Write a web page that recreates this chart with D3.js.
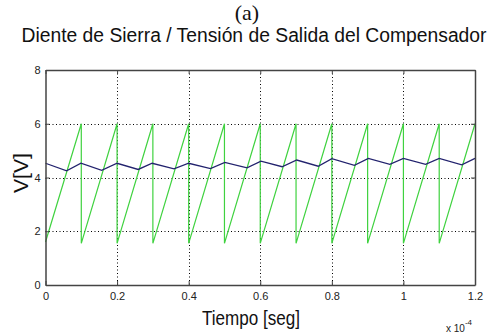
<!DOCTYPE html>
<html>
<head>
<meta charset="utf-8">
<script src="https://cdn.jsdelivr.net/npm/d3@7"></script>
<style>
  body { margin: 0; background: #fff; }
  svg { display: block; }
  text { font-family: "Liberation Sans", Arial, sans-serif; }
</style>
</head>
<body>
<div id="chart"></div>
<script>
// tick labels
const xTicks = [0, 0.2, 0.4, 0.6, 0.8, 1, 1.2];
const yTicks = [0, 2, 4, 6, 8];

// sawtooth (Diente de Sierra), time in units of 1e-4 s
const sawT = [0, 0.1, 0.1, 0.2, 0.2, 0.3, 0.3, 0.4, 0.4, 0.5, 0.5, 0.6, 0.6,
  0.7, 0.7, 0.8, 0.8, 0.9, 0.9, 1.0, 1.0, 1.1, 1.1, 1.2];
const sawV = [1.6, 6, 1.55, 6, 1.55, 6, 1.55, 6, 1.55, 6, 1.55, 6, 1.55,
  6, 1.55, 6, 1.55, 6, 1.55, 6, 1.55, 6, 1.55, 6];

// compensator output
const compT = [0, 0.059, 0.099, 0.157, 0.2, 0.259, 0.298, 0.359, 0.4, 0.461, 0.501,
  0.563, 0.602, 0.661, 0.702, 0.762, 0.8, 0.863, 0.902, 0.962, 1.0, 1.062, 1.1, 1.163, 1.2];
const compV = [4.53, 4.25, 4.53, 4.27, 4.53, 4.30, 4.53, 4.32, 4.53, 4.33, 4.56,
  4.36, 4.61, 4.40, 4.65, 4.42, 4.70, 4.45, 4.71, 4.49, 4.71, 4.49, 4.71, 4.47, 4.71];

const cfg = {
  width: 504,
  height: 336,
  left: 45.5,
  right: 475,
  top: 70,
  bottom: 285,
  frameColor: "#444",
  sawColor: "#3fd23f",
  compColor: "#23236e"
};

const svg = d3.select("#chart").append("svg")
  .attr("width", cfg.width)
  .attr("height", cfg.height);

const x = d3.scaleLinear().domain([0, 1.2]).range([cfg.left, cfg.right]);
const y = d3.scaleLinear().domain([0, 8]).range([cfg.bottom, cfg.top]);

// grid
const grid = svg.append("g")
  .attr("stroke", "#000")
  .attr("stroke-width", 1)
  .attr("stroke-dasharray", "1,2.5");
grid.selectAll(".gx")
  .data(xTicks.slice(1, -1))
  .enter().append("line")
  .attr("x1", d => Math.round(x(d)) + 0.5)
  .attr("x2", d => Math.round(x(d)) + 0.5)
  .attr("y1", cfg.top)
  .attr("y2", cfg.bottom);
grid.selectAll(".gy")
  .data(yTicks.slice(1, -1))
  .enter().append("line")
  .attr("y1", d => Math.round(y(d)) + 0.5)
  .attr("y2", d => Math.round(y(d)) + 0.5)
  .attr("x1", cfg.left)
  .attr("x2", cfg.right);

// series
const line = d3.line().x(d => x(d[0])).y(d => y(d[1]));
svg.append("path")
  .datum(sawT.map((t, i) => [t, sawV[i]]))
  .attr("d", line)
  .attr("fill", "none")
  .attr("stroke", cfg.sawColor)
  .attr("stroke-width", 1.2);
svg.append("path")
  .datum(compT.map((t, i) => [t, compV[i]]))
  .attr("d", line)
  .attr("fill", "none")
  .attr("stroke", cfg.compColor)
  .attr("stroke-width", 1.3);

// axes, ticks inward
const fmt = d => d === 0 || d === 1 ? String(d) : d3.format(".1f")(d);
const xAxis = svg.append("g")
  .attr("transform", `translate(0,${cfg.bottom})`)
  .call(d3.axisBottom(x).tickValues(xTicks).tickFormat(fmt).tickSizeInner(-4).tickSizeOuter(0).tickPadding(7));
const xTop = svg.append("g")
  .attr("transform", `translate(0,${cfg.top})`)
  .call(d3.axisTop(x).tickValues(xTicks).tickFormat("").tickSizeInner(-4).tickSizeOuter(0));
const yAxis = svg.append("g")
  .attr("transform", `translate(${cfg.left},0)`)
  .call(d3.axisLeft(y).tickValues(yTicks).tickFormat(d3.format("d")).tickSizeInner(-4).tickSizeOuter(0).tickPadding(5));
const yRight = svg.append("g")
  .attr("transform", `translate(${cfg.right},0)`)
  .call(d3.axisRight(y).tickValues(yTicks).tickFormat("").tickSizeInner(-4).tickSizeOuter(0));

[xAxis, xTop, yAxis, yRight].forEach(g => {
  g.select(".domain").attr("stroke", cfg.frameColor).attr("stroke-width", 1.5);
  g.selectAll(".tick line").attr("stroke", cfg.frameColor);
  g.selectAll("text")
    .attr("fill", "#222")
    .style("font-size", "11px")
    .style("font-family", "'Liberation Sans', Arial, sans-serif");
});

// titles
svg.append("text")
  .attr("x", 247)
  .attr("y", 20)
  .attr("text-anchor", "middle")
  .style("font-family", "'Liberation Serif', 'Times New Roman', serif")
  .style("font-size", "22px")
  .attr("fill", "#111")
  .text("(a)");

svg.append("text")
  .attr("x", 254)
  .attr("y", 41.5)
  .attr("text-anchor", "middle")
  .attr("textLength", 465)
  .attr("lengthAdjust", "spacingAndGlyphs")
  .style("font-size", "20px")
  .attr("fill", "#111")
  .text("Diente de Sierra / Tensión de Salida del Compensador");

svg.append("text")
  .attr("transform", "translate(28,173) rotate(-90)")
  .attr("text-anchor", "middle")
  .attr("textLength", 40)
  .attr("lengthAdjust", "spacingAndGlyphs")
  .style("font-size", "21px")
  .attr("fill", "#111")
  .text("V[V]");

svg.append("text")
  .attr("x", 251)
  .attr("y", 325)
  .attr("text-anchor", "middle")
  .attr("textLength", 98)
  .attr("lengthAdjust", "spacingAndGlyphs")
  .style("font-size", "20px")
  .attr("fill", "#111")
  .text("Tiempo [seg]");

const expo = svg.append("text")
  .attr("x", 446)
  .attr("y", 332)
  .style("font-size", "10px")
  .attr("fill", "#222");
expo.append("tspan").text("x 10");
expo.append("tspan").attr("dy", -7).style("font-size", "8px").text("-4");
</script>
</body>
</html>
